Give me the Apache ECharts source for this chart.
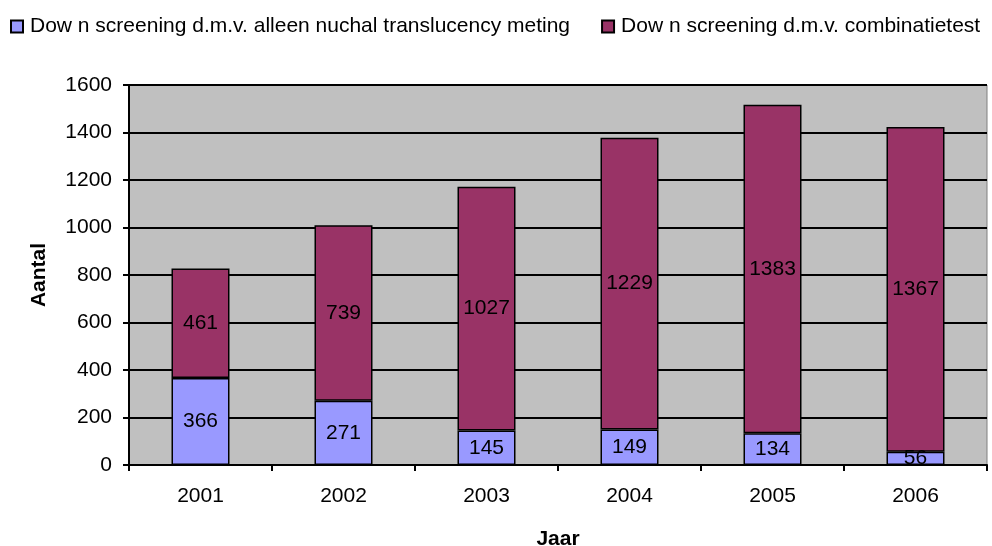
<!DOCTYPE html>
<html>
<head>
<meta charset="utf-8">
<script src="https://cdn.jsdelivr.net/npm/echarts@6/dist/echarts.min.js"></script>
<style>
  html, body { margin: 0; padding: 0; background: #fff; }
  #chart { width: 992px; height: 546px; }
</style>
</head>
<body>
<div id="chart"></div>
<script>
// jaren en aantallen
var jaren = ['2001', '2002', '2003', '2004', '2005', '2006'];
var alleenNT = [366, 271, 145, 149, 134, 56];
var combinatietest = [461, 739, 1027, 1229, 1383, 1367];
var seriesNamen = ['Dow n screening d.m.v. alleen nuchal translucency meting', 'Dow n screening d.m.v. combinatietest'];

var chart = echarts.init(document.getElementById('chart'));

var lettertype = 'Liberation Sans, Arial';
var labelStijl = {
    show: true,
    position: 'inside',
    color: '#000',
    fontFamily: lettertype,
    fontSize: 21
};

var option = {
    animation: false,
    legend: {
        left: 10,
        top: 16,
        padding: 0,
        itemWidth: 12,
        itemHeight: 12,
        itemGap: 31,
        icon: 'rect',
        textStyle: { fontFamily: lettertype, fontSize: 21, color: '#000', padding: [0, 0, 0, 2] },
        data: seriesNamen
    },
    grid: {
        left: 129,
        right: 5,
        top: 85,
        bottom: 81,
        outerBoundsMode: 'none',
        containLabel: false,
        show: true,
        backgroundColor: '#C0C0C0',
        borderColor: '#808080',
        borderWidth: 1
    },
    xAxis: {
        type: 'category',
        data: jaren,
        name: 'Jaar',
        nameLocation: 'middle',
        nameGap: 64,
        nameTextStyle: { fontFamily: lettertype, fontSize: 21, fontWeight: 'bold', color: '#000' },
        axisLine: { lineStyle: { color: '#000', width: 2 } },
        axisTick: { show: true, length: 6, lineStyle: { color: '#000', width: 2 } },
        axisLabel: { fontFamily: lettertype, fontSize: 21, color: '#000', margin: 21 }
    },
    yAxis: {
        type: 'value',
        min: 0,
        max: 1600,
        interval: 200,
        name: 'Aantal',
        nameLocation: 'middle',
        nameGap: 79,
        nameTextStyle: { fontFamily: lettertype, fontSize: 21, fontWeight: 'bold', color: '#000' },
        axisLine: { show: true, lineStyle: { color: '#000', width: 2 } },
        axisTick: { show: true, length: 6, lineStyle: { color: '#000', width: 2 } },
        axisLabel: { fontFamily: lettertype, fontSize: 21, color: '#000', margin: 17, formatter: function (v) { return String(v); } },
        splitLine: { show: true, lineStyle: { color: '#000', width: 2 } }
    },
    series: [
        {
            name: seriesNamen[0],
            type: 'bar',
            stack: 'totaal',
            barWidth: 58,
            data: alleenNT,
            itemStyle: { color: '#9999FF', borderColor: '#000', borderWidth: 1.5 },
            label: labelStijl
        },
        {
            name: seriesNamen[1],
            type: 'bar',
            stack: 'totaal',
            barWidth: 58,
            data: combinatietest,
            itemStyle: { color: '#993366', borderColor: '#000', borderWidth: 1.5 },
            label: labelStijl
        }
    ]
};
option && chart.setOption(option);
</script>
</body>
</html>
